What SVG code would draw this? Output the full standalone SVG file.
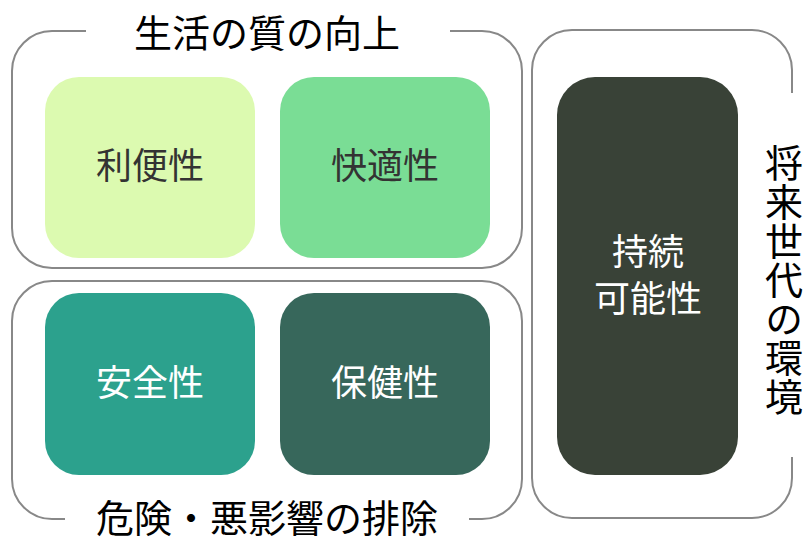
<svg xmlns="http://www.w3.org/2000/svg" width="805" height="537" viewBox="0 0 805 537">
<style>
.br{fill:none;stroke:#888;stroke-width:2}
.t{font-family:"Noto Sans CJK JP","Noto Sans",sans-serif;text-anchor:middle;dominant-baseline:central}
.lbl{font-size:38px;fill:#000}
.nd{font-size:36px}
.dk{fill:#333}
.wh{fill:#fff}
</style>
<rect width="805" height="537" fill="#fff"/>
<g id="connectors">
<path class="br" d="M86,31 H52 A40,40 0 0 0 12,71 V228 A40,40 0 0 0 52,268 H482 A40,40 0 0 0 522,228 V71 A40,40 0 0 0 482,31 H450"/>
<path class="br" d="M469,519 H482 A40,40 0 0 0 522,479 V321 A40,40 0 0 0 482,281 H52 A40,40 0 0 0 12,321 V479 A40,40 0 0 0 52,519 H65"/>
<path class="br" d="M792,93 V70 A40,40 0 0 0 752,30 H572 A40,40 0 0 0 532,70 V478 A40,40 0 0 0 572,518 H752 A40,40 0 0 0 792,478 V457"/>
</g>
<g id="label-top"><text class="t lbl" x="267" y="30">生活の質の向上</text></g>
<g id="label-bottom"><text class="t lbl" x="267" y="515">危険・悪影響の排除</text></g>
<g id="label-right"><text class="t lbl" x="784" y="280" writing-mode="vertical-rl" letter-spacing="1">将来世代の環境</text></g>
<g id="n1"><rect x="45" y="77" width="210" height="181" rx="34" fill="#dcfab0"/><text class="t nd dk" x="150" y="163">利便性</text></g>
<g id="n2"><rect x="280" y="77" width="210" height="181" rx="34" fill="#7add95"/><text class="t nd dk" x="385" y="163">快適性</text></g>
<g id="n3"><rect x="45" y="293" width="210" height="182" rx="34" fill="#2ca18d"/><text class="t nd wh" x="150" y="380">安全性</text></g>
<g id="n4"><rect x="280" y="293" width="210" height="182" rx="34" fill="#37675b"/><text class="t nd wh" x="385" y="380">保健性</text></g>
<g id="n5"><rect x="557" y="77" width="181" height="398" rx="38" fill="#394237"/><text class="t nd wh" x="648" y="249">持続</text><text class="t nd wh" x="648" y="296">可能性</text></g>
</svg>
